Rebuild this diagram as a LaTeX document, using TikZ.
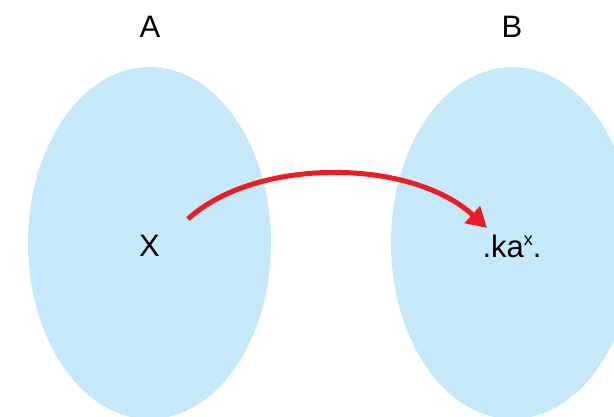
\documentclass[tikz,border=0pt]{standalone}
\usepackage{fontspec}
\setmainfont{Liberation Sans}
\usetikzlibrary{shapes.geometric,arrows.meta}
\definecolor{setblue}{HTML}{C6E9F9}
\definecolor{arrowred}{HTML}{ED1C24}
\tikzset{
  setshape/.style={ellipse, fill=setblue, draw=none, minimum width=243pt, minimum height=352pt, inner sep=0pt},
  lbl/.style={font=\fontsize{31}{36}\selectfont, inner sep=0pt, text=black},
  maparrow/.style={draw=arrowred, line width=5pt, -{Triangle[length=20pt,width=22pt]}}
}
\begin{document}
\begin{tikzpicture}[x=1pt,y=1pt]
  \useasboundingbox (0,0) rectangle (614,416);
  \node[setshape] (setA) at (149.5,173) {};
  \node[setshape] (setB) at (512.5,173) {};
  \node[lbl] (labA) at (150,389) {A};
  \node[lbl] (labB) at (512,389) {B};
  \node[lbl] (X) at (149.5,170.5) {X};
  \node[lbl, anchor=base] (Y) at (512,159) {.ka\raisebox{12pt}{\fontsize{18}{18}\selectfont x}.};
  \coordinate (s) at (188,197);
  \coordinate (t) at (487,188);
  \draw[maparrow] (s) .. controls (255,258.5) and (410,258.5) .. (t);
\end{tikzpicture}
\end{document}
